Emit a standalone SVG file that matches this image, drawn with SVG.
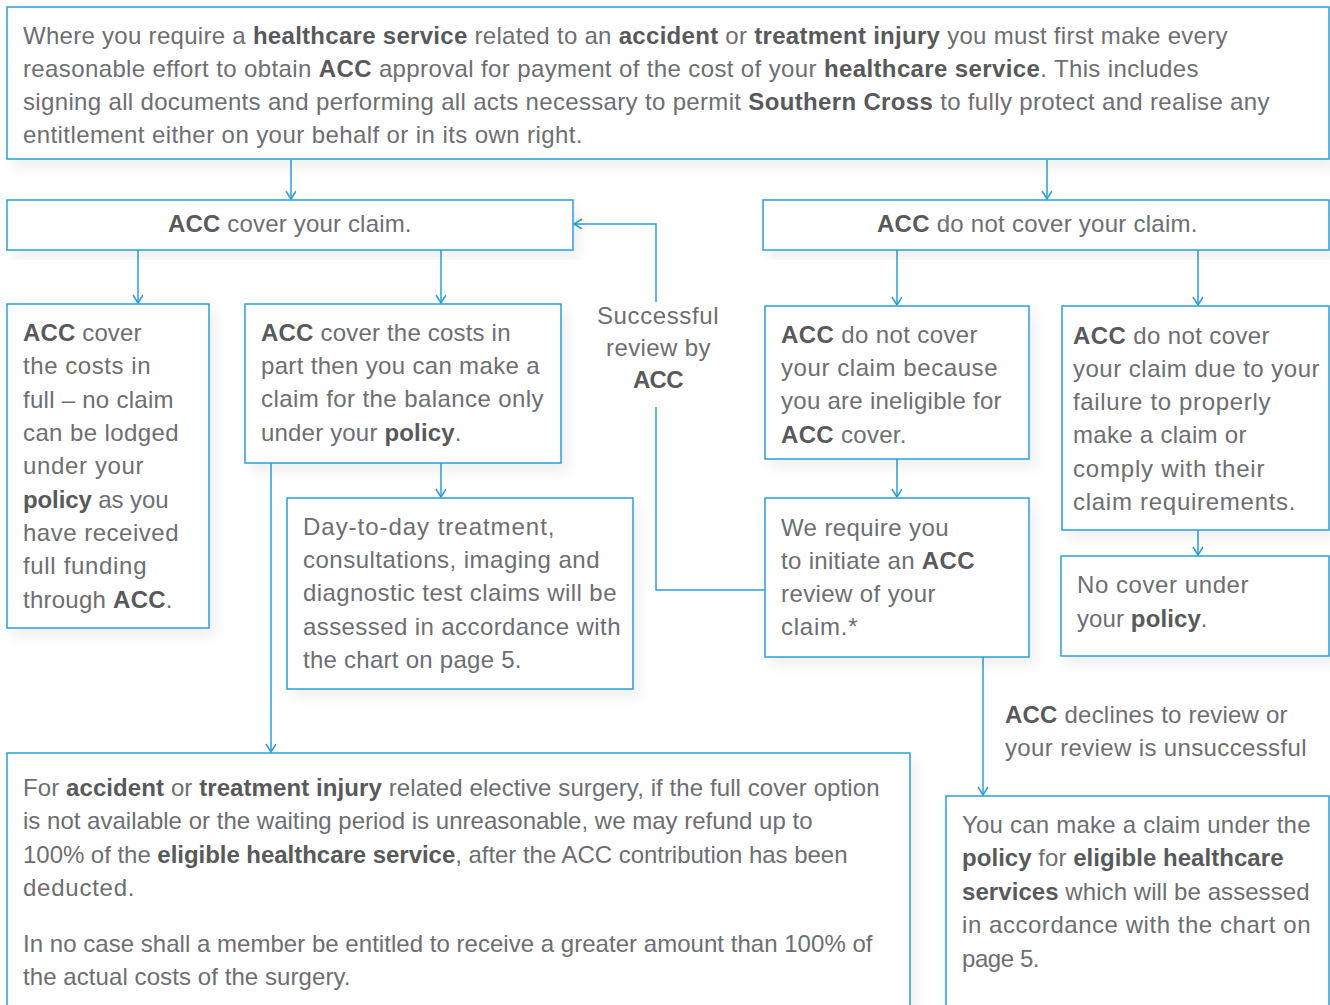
<svg xmlns="http://www.w3.org/2000/svg" width="1330" height="1005" viewBox="0 0 1330 1005">
<style>
.box{fill:#fff;stroke:#2a9fd8;stroke-width:1.5}
.t{font-family:"Liberation Sans",Arial,sans-serif;font-size:24px;fill:#6d6e71;letter-spacing:-0.5px}
.b{font-weight:bold;fill:#58595b}
.c{fill:none;stroke:#2a9fd8;stroke-width:1.5}
</style>
<defs>
<marker id="ar" markerUnits="userSpaceOnUse" markerWidth="12" markerHeight="12" refX="9" refY="5" orient="auto" viewBox="0 0 12 12">
<path d="M1,0 L9,5 L1,10" fill="none" stroke="#2a9fd8" stroke-width="1.5"/>
</marker>
<filter id="sh" x="-10%" y="-10%" width="125%" height="130%">
<feDropShadow dx="6" dy="8" stdDeviation="6" flood-color="#000" flood-opacity="0.06"/>
</filter>
</defs>
<rect width="1330" height="1005" fill="#fff"/>

<g id="connectors">
<path class="c" d="M291,160 V199" marker-end="url(#ar)"/>
<path class="c" d="M1047,160 V199" marker-end="url(#ar)"/>
<path class="c" d="M138,250 V303" marker-end="url(#ar)"/>
<path class="c" d="M441,250 V303" marker-end="url(#ar)"/>
<path class="c" d="M441,463 V497" marker-end="url(#ar)"/>
<path class="c" d="M271,463 V752" marker-end="url(#ar)"/>
<path class="c" d="M897,250 V305" marker-end="url(#ar)"/>
<path class="c" d="M897,459 V497" marker-end="url(#ar)"/>
<path class="c" d="M1198,250 V305" marker-end="url(#ar)"/>
<path class="c" d="M1198,530 V555" marker-end="url(#ar)"/>
<path class="c" d="M983,657 V795" marker-end="url(#ar)"/>
<path class="c" d="M765,590 H656 V407"/>
<path class="c" d="M656,302 V224 H574" marker-end="url(#ar)"/>
<g id="label-successful">
<text class="t" x="597" y="324" textLength="121">Successful</text>
<text class="t" x="606" y="356" textLength="104">review by</text>
<text class="t" x="633" y="388" textLength="50"><tspan class="b">ACC</tspan></text>
</g>
<g id="label-declines">
<text class="t" x="1005" y="723" textLength="282"><tspan class="b">ACC</tspan> declines to review or</text>
<text class="t" x="1005" y="756" textLength="301">your review is unsuccessful</text>
</g>
</g>

<g id="n-intro">
<rect class="box" x="7" y="7" width="1322" height="152" filter="url(#sh)"/>
<text class="t" x="23" y="44" textLength="1204">Where you require a <tspan class="b">healthcare service</tspan> related to an <tspan class="b">accident</tspan> or <tspan class="b">treatment injury</tspan> you must first make every</text>
<text class="t" x="23" y="77" textLength="1175">reasonable effort to obtain <tspan class="b">ACC</tspan> approval for payment of the cost of your <tspan class="b">healthcare service</tspan>. This includes</text>
<text class="t" x="23" y="110" textLength="1246">signing all documents and performing all acts necessary to permit <tspan class="b">Southern Cross</tspan> to fully protect and realise any</text>
<text class="t" x="23" y="143" textLength="559">entitlement either on your behalf or in its own right.</text>
</g>

<g id="n-cover">
<rect class="box" x="7" y="200" width="566" height="50" filter="url(#sh)"/>
<text class="t" x="168" y="232" textLength="243"><tspan class="b">ACC</tspan> cover your claim.</text>
</g>

<g id="n-notcover">
<rect class="box" x="763" y="200" width="566" height="50" filter="url(#sh)"/>
<text class="t" x="877" y="232" textLength="320"><tspan class="b">ACC</tspan> do not cover your claim.</text>
</g>

<g id="n-full">
<rect class="box" x="7" y="304" width="202" height="324" filter="url(#sh)"/>
<text class="t" x="23" y="341" textLength="118"><tspan class="b">ACC</tspan> cover</text>
<text class="t" x="23" y="374" textLength="127">the costs in</text>
<text class="t" x="23" y="408" textLength="150">full – no claim</text>
<text class="t" x="23" y="441" textLength="155">can be lodged</text>
<text class="t" x="23" y="474" textLength="120">under your</text>
<text class="t" x="23" y="508" textLength="145"><tspan class="b">policy</tspan> as you</text>
<text class="t" x="23" y="541" textLength="155">have received</text>
<text class="t" x="23" y="574" textLength="123">full funding</text>
<text class="t" x="23" y="608" textLength="149">through <tspan class="b">ACC</tspan>.</text>
</g>

<g id="n-part">
<rect class="box" x="245" y="304" width="316" height="159" filter="url(#sh)"/>
<text class="t" x="261" y="341" textLength="249"><tspan class="b">ACC</tspan> cover the costs in</text>
<text class="t" x="261" y="374" textLength="278">part then you can make a</text>
<text class="t" x="261" y="407" textLength="282">claim for the balance only</text>
<text class="t" x="261" y="441" textLength="200">under your <tspan class="b">policy</tspan>.</text>
</g>

<g id="n-daytoday">
<rect class="box" x="287" y="498" width="346" height="191" filter="url(#sh)"/>
<text class="t" x="303" y="535" textLength="251">Day-to-day treatment,</text>
<text class="t" x="303" y="568" textLength="296">consultations, imaging and</text>
<text class="t" x="303" y="601" textLength="313">diagnostic test claims will be</text>
<text class="t" x="303" y="635" textLength="317">assessed in accordance with</text>
<text class="t" x="303" y="668" textLength="218">the chart on page 5.</text>
</g>

<g id="n-ineligible">
<rect class="box" x="765" y="306" width="264" height="153" filter="url(#sh)"/>
<text class="t" x="781" y="343" textLength="196"><tspan class="b">ACC</tspan> do not cover</text>
<text class="t" x="781" y="376" textLength="216">your claim because</text>
<text class="t" x="781" y="409" textLength="220">you are ineligible for</text>
<text class="t" x="781" y="443" textLength="125"><tspan class="b">ACC</tspan> cover.</text>
</g>

<g id="n-review">
<rect class="box" x="765" y="498" width="264" height="159" filter="url(#sh)"/>
<text class="t" x="781" y="536" textLength="167">We require you</text>
<text class="t" x="781" y="569" textLength="193">to initiate an <tspan class="b">ACC</tspan></text>
<text class="t" x="781" y="602" textLength="154">review of your</text>
<text class="t" x="781" y="635" textLength="76">claim.*</text>
</g>

<g id="n-failure">
<rect class="box" x="1062" y="306" width="267" height="224" filter="url(#sh)"/>
<text class="t" x="1073" y="344" textLength="196"><tspan class="b">ACC</tspan> do not cover</text>
<text class="t" x="1073" y="377" textLength="246">your claim due to your</text>
<text class="t" x="1073" y="410" textLength="197">failure to properly</text>
<text class="t" x="1073" y="443" textLength="173">make a claim or</text>
<text class="t" x="1073" y="477" textLength="191">comply with their</text>
<text class="t" x="1073" y="510" textLength="222">claim requirements.</text>
</g>

<g id="n-nocover">
<rect class="box" x="1061" y="556" width="268" height="100" filter="url(#sh)"/>
<text class="t" x="1077" y="593" textLength="171">No cover under</text>
<text class="t" x="1077" y="627" textLength="130">your <tspan class="b">policy</tspan>.</text>
</g>

<g id="n-claim">
<rect class="box" x="946" y="796" width="383" height="220" filter="url(#sh)"/>
<text class="t" x="962" y="833" textLength="348">You can make a claim under the</text>
<text class="t" x="962" y="866" textLength="321"><tspan class="b">policy</tspan> for <tspan class="b">eligible healthcare</tspan></text>
<text class="t" x="962" y="900" textLength="347"><tspan class="b">services</tspan> which will be assessed</text>
<text class="t" x="962" y="933" textLength="348">in accordance with the chart on</text>
<text class="t" x="962" y="967" textLength="77">page 5.</text>
</g>

<g id="n-surgery">
<rect class="box" x="7" y="753" width="903" height="263" filter="url(#sh)"/>
<text class="t" x="23" y="796" textLength="856">For <tspan class="b">accident</tspan> or <tspan class="b">treatment injury</tspan> related elective surgery, if the full cover option</text>
<text class="t" x="23" y="829" textLength="789">is not available or the waiting period is unreasonable, we may refund up to</text>
<text class="t" x="23" y="863" textLength="824">100% of the <tspan class="b">eligible healthcare service</tspan>, after the ACC contribution has been</text>
<text class="t" x="23" y="896" textLength="111">deducted.</text>
<text class="t" x="23" y="952" textLength="849">In no case shall a member be entitled to receive a greater amount than 100% of</text>
<text class="t" x="23" y="985" textLength="327">the actual costs of the surgery.</text>
</g>
</svg>
